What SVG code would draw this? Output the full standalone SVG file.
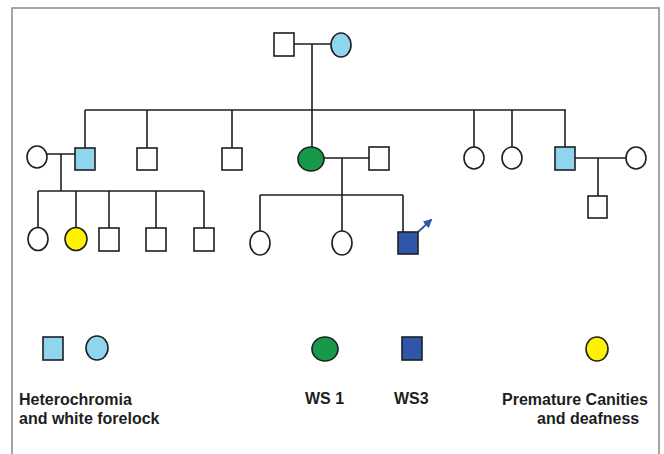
<svg xmlns="http://www.w3.org/2000/svg" width="664" height="454" viewBox="0 0 664 454">
<style>
.n{stroke:#1e1e1e;stroke-width:1.6;fill:#fff}
.lb{fill:#8fd5ee}.gr{fill:#17994a}.db{fill:#2f56a8}.ye{fill:#fff200}
.c{stroke:#1e1e1e;stroke-width:1.6;fill:none}
.t{font-family:"Liberation Sans",Arial,sans-serif;font-weight:bold;font-size:16px;fill:#1e1e1e}
</style>
<defs>
<marker id="ah" viewBox="0 0 10 10" refX="8" refY="5" markerWidth="5" markerHeight="5" orient="auto">
<path d="M0,0L10,5L0,10z" fill="#2f56a8"/>
</marker>
</defs>
<path d="M12,454V8H659V454" fill="none" stroke="#888" stroke-width="1.5"/>
<g id="connectors" class="c">
<path d="M294,44H331M312,44V110M85,110H566"/>
<path d="M85,110V148M147,110V148M232,110V148M312,110V147M474,110V147M512,110V147M565,110V147"/>
<path d="M47,154H75M61,154V191M38,191H204M38,191V228M76,191V228M109,191V228M156,191V228M204,191V228"/>
<path d="M324,158H369M342,158V195M260,195H403M260,195V231M342,195V231M403,195V232"/>
<path d="M575,158H626M598,158V196"/>
<path d="M418,232L431,220" stroke="#2f56a8" stroke-width="1.8" marker-end="url(#ah)"/>
</g>
<g id="g1-father"><rect class="n" x="274" y="33" width="20" height="23"/></g>
<g id="g1-mother"><ellipse class="n lb" cx="341" cy="45" rx="10" ry="12"/></g>
<g id="g2-wife1"><ellipse class="n" cx="37" cy="157" rx="10" ry="11"/></g>
<g id="g2-son1"><rect class="n lb" x="75" y="148" width="20" height="22"/></g>
<g id="g2-son2"><rect class="n" x="137" y="148" width="20" height="22"/></g>
<g id="g2-son3"><rect class="n" x="222" y="148" width="20" height="22"/></g>
<g id="g2-daughter-ws1"><ellipse class="n gr" cx="311" cy="159" rx="13" ry="12"/></g>
<g id="g2-husband"><rect class="n" x="369" y="147" width="20" height="23"/></g>
<g id="g2-daughter2"><ellipse class="n" cx="474" cy="158" rx="10" ry="11"/></g>
<g id="g2-daughter3"><ellipse class="n" cx="512" cy="158" rx="10" ry="11"/></g>
<g id="g2-son4"><rect class="n lb" x="555" y="147" width="20" height="23"/></g>
<g id="g2-wife2"><ellipse class="n" cx="636" cy="158" rx="10" ry="11"/></g>
<g id="g3-a1"><ellipse class="n" cx="38" cy="239" rx="10" ry="11.5"/></g>
<g id="g3-a2"><ellipse class="n ye" cx="76" cy="239" rx="11" ry="11.5"/></g>
<g id="g3-a3"><rect class="n" x="99" y="228" width="20" height="23"/></g>
<g id="g3-a4"><rect class="n" x="146" y="228" width="20" height="23"/></g>
<g id="g3-a5"><rect class="n" x="194" y="228" width="20" height="23"/></g>
<g id="g3-b1"><ellipse class="n" cx="260" cy="243" rx="10" ry="12"/></g>
<g id="g3-b2"><ellipse class="n" cx="342" cy="243" rx="10" ry="12"/></g>
<g id="g3-b3-proband"><rect class="n db" x="398" y="232" width="20" height="22"/></g>
<g id="g3-c1"><rect class="n" x="588" y="196" width="19" height="22"/></g>
<g id="legend">
<rect class="n lb" x="43" y="337" width="20" height="23"/>
<ellipse class="n lb" cx="97" cy="348" rx="11" ry="12"/>
<ellipse class="n gr" cx="325" cy="349" rx="13" ry="12"/>
<rect class="n db" x="402" y="337" width="20" height="23"/>
<ellipse class="n ye" cx="597" cy="349" rx="11" ry="12"/>
<text class="t" x="19" y="405">Heterochromia</text>
<text class="t" x="19" y="424">and white forelock</text>
<text class="t" x="305" y="404">WS 1</text>
<text class="t" x="394" y="404">WS3</text>
<text class="t" x="502" y="405">Premature Canities</text>
<text class="t" x="537" y="424">and deafness</text>
</g>
</svg>
